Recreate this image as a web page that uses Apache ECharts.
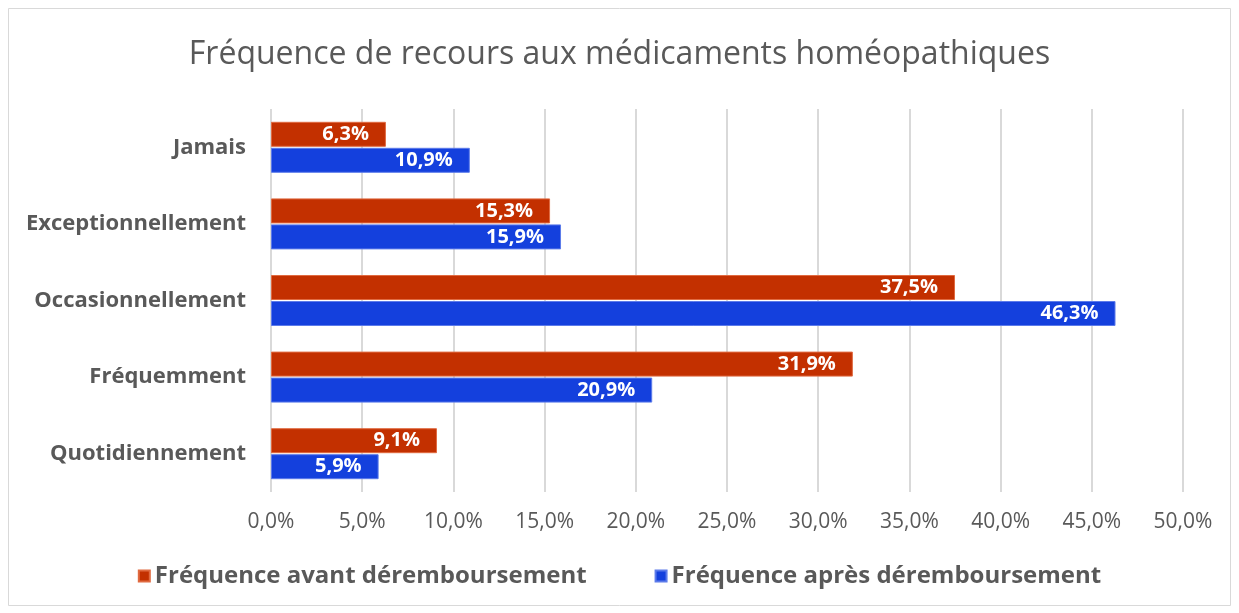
<!DOCTYPE html>
<html>
<head>
<meta charset="utf-8">
<script src="https://cdn.jsdelivr.net/npm/echarts@6/dist/echarts.min.js"></script>
<style>
  html, body { margin: 0; padding: 0; background: #fff; }
  #chart { width: 1239px; height: 613px; }
</style>
</head>
<body>
<div id="chart"></div>
<script>
// données
var categories = ['Jamais', 'Exceptionnellement', 'Occasionnellement', 'Fréquemment', 'Quotidiennement'];
var avant = [6.3, 15.3, 37.5, 31.9, 9.1];
var apres = [10.9, 15.9, 46.3, 20.9, 5.9];
var seriesNames = ['Fréquence avant déremboursement', 'Fréquence après déremboursement'];

var FONT = '"Open Sans", "Noto Sans", sans-serif';
var GRIS = '#595959';

function pct(v, d) {
    return v.toFixed(d).replace('.', ',') + '%';
}

var myChart = echarts.init(document.getElementById('chart'));

var labelStyle = {
    show: true,
    position: 'insideRight',
    color: '#fff',
    fontFamily: FONT,
    fontWeight: 'bold',
    fontSize: 20,
    distance: 17,
    formatter: function (p) { return pct(p.value, 1); }
};

myChart.setOption({
    backgroundColor: '#fff',
    textStyle: { fontFamily: FONT },
    title: {
        text: 'Fréquence de recours aux médicaments homéopathiques',
        left: 'center',
        top: 34,
        textStyle: { color: GRIS, fontFamily: FONT, fontWeight: 'normal', fontSize: 32 }
    },
    legend: {
        bottom: 20,
        left: 'center',
        itemWidth: 11,
        itemHeight: 11,
        itemGap: 68,
        icon: 'rect',
        textStyle: { color: GRIS, fontFamily: FONT, fontWeight: 'bold', fontSize: 24 },
        data: seriesNames
    },
    grid: { left: 271, right: 56, top: 109, bottom: 121, containLabel: false },
    xAxis: {
        type: 'value',
        min: 0,
        max: 50,
        interval: 5,
        axisLine: { show: false },
        axisTick: { show: false },
        splitLine: { lineStyle: { color: '#d9d9d9', width: 2 } },
        axisLabel: {
            color: GRIS, fontSize: 21, fontFamily: FONT, margin: 20,
            formatter: function (v) { return pct(v, 1); }
        }
    },
    yAxis: {
        type: 'category',
        inverse: true,
        data: categories,
        axisLine: { show: false },
        axisTick: { show: false },
        axisLabel: { color: GRIS, fontSize: 22, fontWeight: 'bold', fontFamily: FONT, margin: 25 }
    },
    series: [
        {
            name: seriesNames[0],
            type: 'bar',
            data: avant,
            barWidth: 25,
            barGap: '4%',
            itemStyle: { color: '#C33000', borderColor: '#E06A40', borderWidth: 1 },
            label: labelStyle
        },
        {
            name: seriesNames[1],
            type: 'bar',
            data: apres,
            barWidth: 25,
            barGap: '4%',
            itemStyle: { color: '#1440DD', borderColor: '#5C7BEA', borderWidth: 1 },
            label: labelStyle
        }
    ],
    graphic: [{
        type: 'rect',
        shape: { x: 8.5, y: 8.5, width: 1222, height: 597 },
        style: { fill: 'none', stroke: '#d9d9d9', lineWidth: 1 },
        silent: true
    }]
});
</script>
</body>
</html>
